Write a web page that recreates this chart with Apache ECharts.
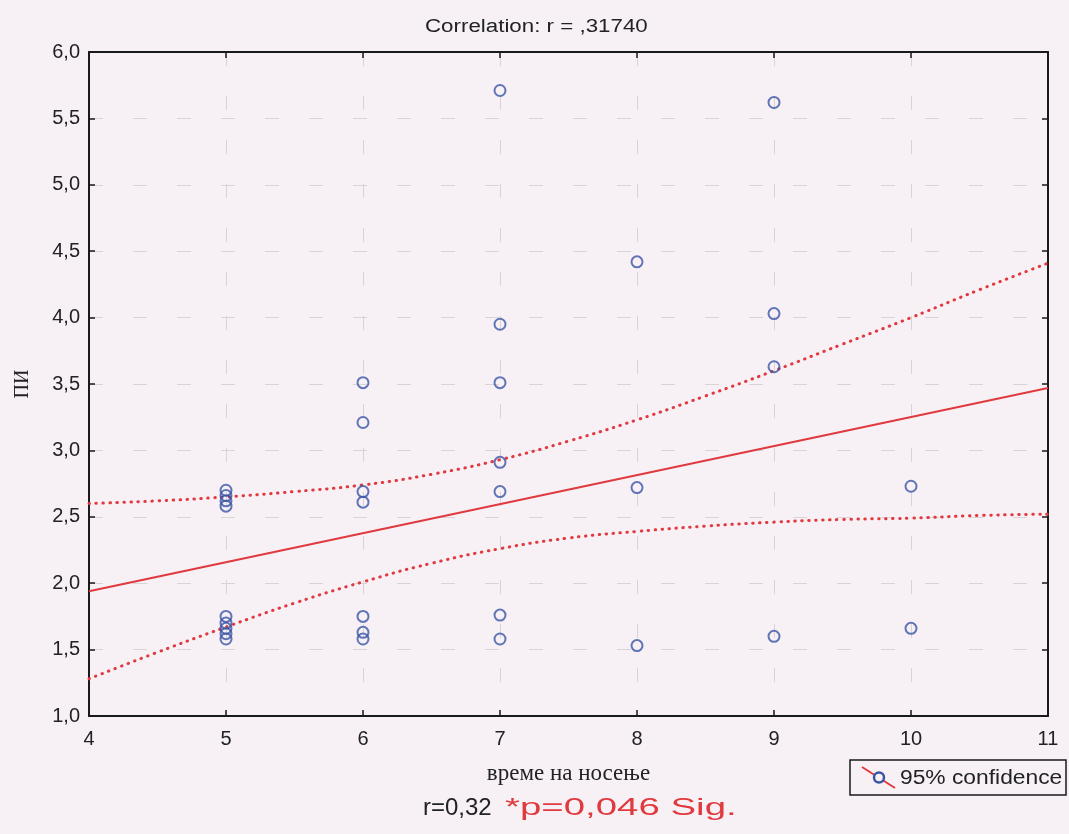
<!DOCTYPE html>
<html>
<head>
<meta charset="utf-8">
<script src="https://cdn.jsdelivr.net/npm/echarts@6/dist/echarts.min.js"></script>
<style>
html,body{margin:0;padding:0;background:#f7f1f6;}
#chart{width:1069px;height:834px;}
</style>
</head>
<body>
<div id="chart"></div>
<script>
// ---- data ----
var pointsX = [5,5,5,5,5,5,5,5,5, 6,6,6,6,6,6,6, 7,7,7,7,7,7,7, 8,8,8, 9,9,9,9, 10,10];
var pointsY = [2.70,2.66,2.62,2.58,1.75,1.70,1.66,1.62,1.58,
               3.51,3.21,2.69,2.61,1.75,1.63,1.58,
               5.71,3.95,3.51,2.91,2.69,1.76,1.58,
               4.42,2.72,1.53,
               5.62,4.03,3.63,1.60,
               2.73,1.66];
var fitX = [4, 11];
var fitY = [1.94, 3.47];
var bandX = [4, 4.5, 5, 5.5, 6, 6.5, 7, 7.5, 8, 8.5, 9, 9.5, 10, 10.5, 11];
var upperY = [2.60, 2.62, 2.65, 2.69, 2.74, 2.82, 2.93, 3.07, 3.23, 3.41, 3.60, 3.80, 4.00, 4.21, 4.41];
var lowerY = [1.28, 1.48, 1.67, 1.85, 2.01, 2.15, 2.26, 2.34, 2.39, 2.43, 2.46, 2.48, 2.49, 2.51, 2.52];
var xTicks = [4, 5, 6, 7, 8, 9, 10, 11];
var yTicks = [1.0, 1.5, 2.0, 2.5, 3.0, 3.5, 4.0, 4.5, 5.0, 5.5, 6.0];
var titleText = 'Correlation: r = ,31740';
var xName = 'време на носење';
var yName = 'ПИ';
var legendText = '95% confidence';
var noteBlack = 'r=0,32';
var noteRed = '*p=0,046 Sig.';

function zip(a, b){ return a.map(function(v,i){ return [v, b[i]]; }); }
function fmt(v){ return v.toFixed(1).replace('.', ','); }

var chart = echarts.init(document.getElementById('chart'));
var red = '#e0393e';
var blue = '#3b55a5';
var dark = '#222222';
var bg = '#f7f1f6';
var gridLine = {show:true, lineStyle:{color:'#d9d3d8', width:1, type:[14,30]}};
var dotted = {color:red, width:3, type:[0.5,6.5], cap:'round'};

chart.setOption({
  backgroundColor:bg,
  animation:false,
  grid:{left:89, right:21, top:52, bottom:118},
  xAxis:[{
    type:'value', min:xTicks[0], max:xTicks[xTicks.length-1], interval:1,
    position:'bottom',
    axisLine:{show:true, onZero:false, lineStyle:{color:'#1a1a1a', width:2}},
    axisTick:{show:true, inside:true, length:6, lineStyle:{color:'#1a1a1a', width:1.5}},
    axisLabel:{color:dark, fontFamily:'Liberation Sans, Arial', fontSize:20, margin:13},
    splitLine:gridLine,
    name:xName, nameLocation:'middle', nameGap:46,
    nameTextStyle:{fontFamily:'Liberation Serif, Times New Roman, serif', fontSize:23, color:dark}
  },{
    type:'value', min:xTicks[0], max:xTicks[xTicks.length-1], interval:1,
    position:'top',
    axisLine:{show:true, onZero:false, lineStyle:{color:'#1a1a1a', width:2}},
    axisTick:{show:true, inside:true, length:6, lineStyle:{color:'#1a1a1a', width:1.5}},
    axisLabel:{show:false}, splitLine:{show:false}
  }],
  yAxis:[{
    type:'value', min:yTicks[0], max:yTicks[yTicks.length-1], interval:0.5,
    position:'left',
    axisLine:{show:true, onZero:false, lineStyle:{color:'#1a1a1a', width:2}},
    axisTick:{show:true, inside:true, length:6, lineStyle:{color:'#1a1a1a', width:1.5}},
    axisLabel:{color:dark, fontFamily:'Liberation Sans, Arial', fontSize:20, margin:9, formatter:fmt},
    splitLine:gridLine,
    name:yName, nameLocation:'middle', nameGap:56, nameRotate:90,
    nameTextStyle:{fontFamily:'Liberation Serif, Times New Roman, serif', fontSize:20, color:dark}
  },{
    type:'value', min:yTicks[0], max:yTicks[yTicks.length-1], interval:0.5,
    position:'right',
    axisLine:{show:true, onZero:false, lineStyle:{color:'#1a1a1a', width:2}},
    axisTick:{show:true, inside:true, length:6, lineStyle:{color:'#1a1a1a', width:1.5}},
    axisLabel:{show:false}, splitLine:{show:false}
  }],
  series:[
    {type:'line', data:zip(bandX, upperY), smooth:true, symbol:'none', lineStyle:dotted, z:3},
    {type:'line', data:zip(bandX, lowerY), smooth:true, symbol:'none', lineStyle:dotted, z:3},
    {type:'line', data:zip(fitX, fitY), symbol:'none', lineStyle:{color:red, width:2}, z:3},
    {type:'scatter', data:zip(pointsX, pointsY), symbol:'circle', symbolSize:11,
     itemStyle:{color:'rgba(0,0,0,0)', borderColor:blue, borderWidth:2}, z:4}
  ],
  graphic:[
    {type:'text', x:425, y:27, scaleX:1.24,
     style:{text:titleText, x:0, y:0, textVerticalAlign:'middle', font:'18px "Liberation Sans", Arial', fill:dark}},
    {type:'rect', shape:{x:850, y:760, width:216, height:35},
     style:{fill:bg, stroke:'#1a1a1a', lineWidth:1.5}},
    {type:'line', shape:{x1:862, y1:767, x2:895, y2:788},
     style:{stroke:red, lineWidth:2}},
    {type:'circle', shape:{cx:879, cy:777.5, r:5},
     style:{fill:bg, stroke:blue, lineWidth:2.5}},
    {type:'text', x:900, y:778, scaleX:1.14,
     style:{text:legendText, x:0, y:0, textVerticalAlign:'middle', font:'20px "Liberation Sans", Arial', fill:dark}},
    {type:'text', x:423, y:808, scaleX:1.0,
     style:{text:noteBlack, x:0, y:0, textVerticalAlign:'middle', font:'24px "Liberation Sans", Arial', fill:dark}},
    {type:'text', x:505, y:808, scaleX:1.6,
     style:{text:noteRed, x:0, y:0, textVerticalAlign:'middle', font:'24px "Liberation Sans", Arial', fill:red}}
  ]
});
</script>
</body>
</html>
